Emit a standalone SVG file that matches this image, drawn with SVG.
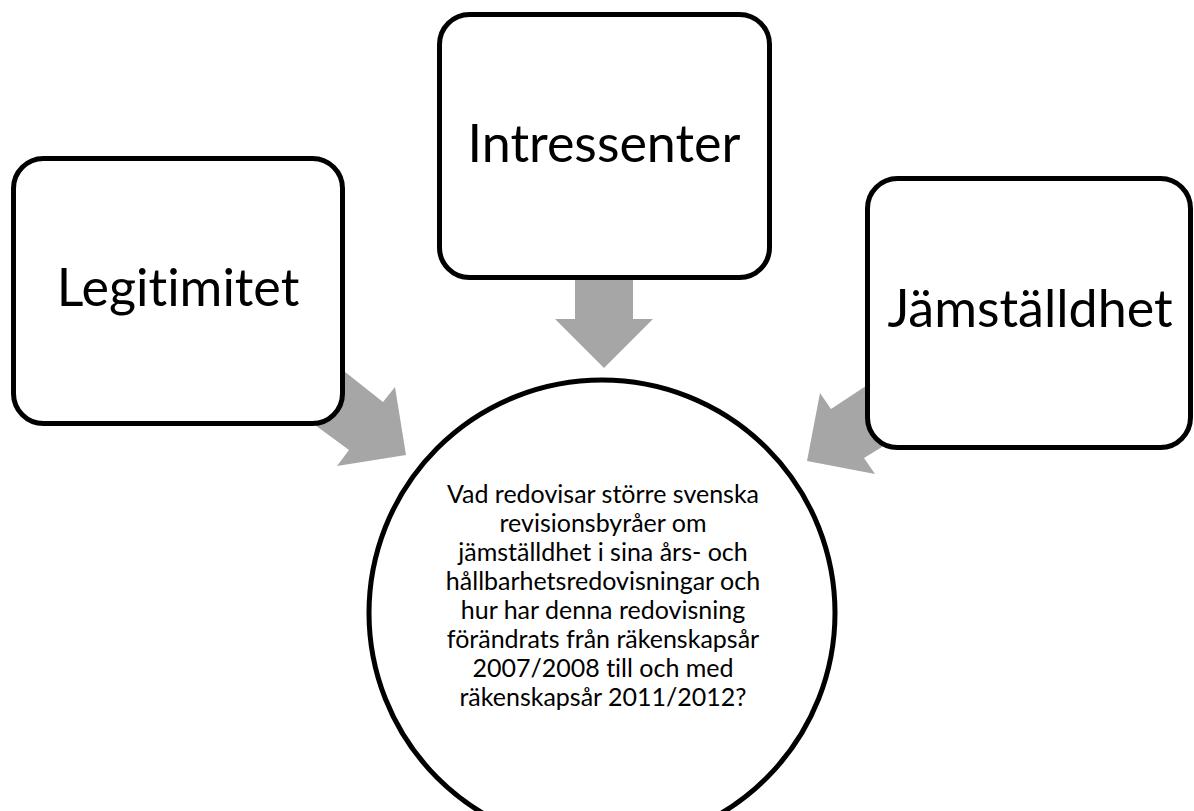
<svg xmlns="http://www.w3.org/2000/svg" width="1194" height="811" viewBox="0 0 1194 811">
<style>
.arrow{fill:#a6a6a6;stroke:none}
.box{fill:#ffffff;stroke:#000000;stroke-width:5}
.big{font-family:Lato,"Open Sans","Liberation Sans",sans-serif;font-size:52px;fill:#000;text-anchor:middle;font-variant-ligatures:none}
.small{font-family:Lato,"Open Sans","Liberation Sans",sans-serif;font-size:25px;fill:#000;text-anchor:middle;font-variant-ligatures:none}
</style>
<rect width="1194" height="811" fill="#ffffff"/>
<g id="connectors">
<polygon class="arrow" points="575,270 633,270 633,319 653,319 604,368 555,319 575,319"/>
<polygon class="arrow" points="330,360 383,402 395,387 406,455 337,466 349,450 300,414"/>
<polygon class="arrow" points="878,378 831,409 820,393 807,461 875,474 864,458 895,439"/>
</g>
<g id="center">
<circle class="box" cx="602" cy="613" r="233"/>
<text class="small" x="603"><tspan x="603" y="503">Vad redovisar större svenska</tspan><tspan x="603" y="532">revisionsbyråer om</tspan><tspan x="603" y="561">jämställdhet i sina års- och</tspan><tspan x="603" y="590">hållbarhetsredovisningar och</tspan><tspan x="603" y="619">hur har denna redovisning</tspan><tspan x="603" y="648">förändrats från räkenskapsår</tspan><tspan x="603" y="677">2007/2008 till och med</tspan><tspan x="603" y="706">räkenskapsår 2011/2012?</tspan></text>
</g>
<g id="legitimitet">
<rect class="box" x="13.5" y="158.5" width="329" height="265" rx="30"/>
<text class="big" x="178" y="306">Legitimitet</text>
</g>
<g id="intressenter">
<rect class="box" x="439.5" y="14.5" width="330" height="263" rx="30"/>
<text class="big" x="604" y="162">Intressenter</text>
</g>
<g id="jamstalldhet">
<rect class="box" x="867.5" y="178.5" width="323" height="269" rx="30"/>
<text class="big" x="1030" y="327">Jämställdhet</text>
</g>
</svg>
